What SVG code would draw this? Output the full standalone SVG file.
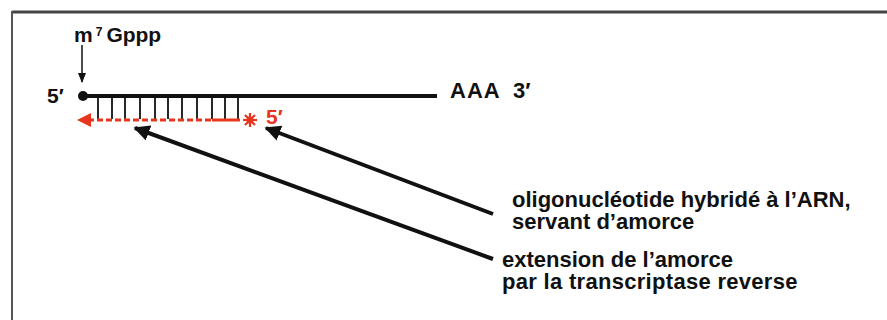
<svg xmlns="http://www.w3.org/2000/svg" width="887" height="320" viewBox="0 0 887 320">
<style>
.t{font-family:"Liberation Sans",Arial,sans-serif;font-weight:bold;fill:#111}
.r{fill:#e8361e}
</style>
<defs>
<marker id="ah" viewBox="0 0 10 10" refX="9" refY="5" markerWidth="4" markerHeight="4" orient="auto" markerUnits="strokeWidth">
<path d="M0,0 L10,5 L0,10 z" fill="#111"/>
</marker>
<marker id="ahs" viewBox="0 0 10 10" refX="9" refY="5" markerWidth="7" markerHeight="7" orient="auto" markerUnits="strokeWidth">
<path d="M0,1 L10,5 L0,9 z" fill="#111"/>
</marker>
</defs>
<rect width="887" height="320" fill="#fff"/>
<g id="frame">
<line x1="12" y1="12" x2="887" y2="12" stroke="#444" stroke-width="3"/>
<line x1="12" y1="11" x2="12" y2="320" stroke="#555" stroke-width="2"/>
</g>
<g id="cap">
<text class="t" x="74" y="42" font-size="21">m<tspan font-size="12" dy="-6" dx="3">7</tspan><tspan dy="6" dx="4">Gppp</tspan></text>
</g>
<g id="rna">
<text class="t" x="47" y="103" font-size="21">5′</text>
<circle cx="83" cy="96" r="5" fill="#111"/>
<line x1="83" y1="96" x2="437" y2="96" stroke="#111" stroke-width="4"/>
<text class="t" x="450" y="98" font-size="22" letter-spacing="1">AAA</text>
<text class="t" x="513" y="98" font-size="22">3′</text>
</g>
<g id="hybrid">
<g stroke="#111" stroke-width="1.8">
<line x1="98" y1="97" x2="98" y2="119"/>
<line x1="112" y1="97" x2="112" y2="119"/>
<line x1="125" y1="97" x2="125" y2="119"/>
<line x1="140" y1="97" x2="140" y2="119"/>
<line x1="155" y1="97" x2="155" y2="119"/>
<line x1="168" y1="97" x2="168" y2="119"/>
<line x1="182" y1="97" x2="182" y2="119"/>
<line x1="197" y1="97" x2="197" y2="119"/>
<line x1="212" y1="97" x2="212" y2="119"/>
<line x1="225" y1="97" x2="225" y2="119"/>
<line x1="238" y1="97" x2="238" y2="119"/>
</g>
</g>
<g id="primer">
<line x1="88" y1="120" x2="212" y2="120" stroke="#e8361e" stroke-width="3" stroke-dasharray="6 3"/>
<line x1="212" y1="120" x2="240" y2="120" stroke="#e8361e" stroke-width="3"/>
<path d="M77,120 L91,113 L91,127 z" class="r"/>
<g stroke="#e8361e" stroke-width="2.2">
<line x1="243" y1="120" x2="257" y2="120"/>
<line x1="250" y1="113" x2="250" y2="127"/>
<line x1="245" y1="115" x2="255" y2="125"/>
<line x1="245" y1="125" x2="255" y2="115"/>
</g>
<circle cx="250" cy="120" r="3.5" class="r"/>
<text class="t" x="266" y="124" font-size="21" style="fill:#e8361e">5′</text>
</g>
<g id="connectors" stroke="#111" stroke-width="4" fill="none">
<line x1="82" y1="45" x2="82" y2="82" stroke-width="1.5" marker-end="url(#ahs)"/>
<line x1="493" y1="214" x2="266" y2="128" marker-end="url(#ah)"/>
<line x1="493" y1="259" x2="135" y2="128" marker-end="url(#ah)"/>
</g>
<g id="label1">
<text class="t" x="512" y="207" font-size="22">oligonucléotide hybridé à l’ARN,</text>
<text class="t" x="512" y="229" font-size="22">servant d’amorce</text>
</g>
<g id="label2">
<text class="t" x="502" y="267" font-size="22">extension de l’amorce</text>
<text class="t" x="502" y="289" font-size="22" letter-spacing="0.3">par la transcriptase reverse</text>
</g>
</svg>
